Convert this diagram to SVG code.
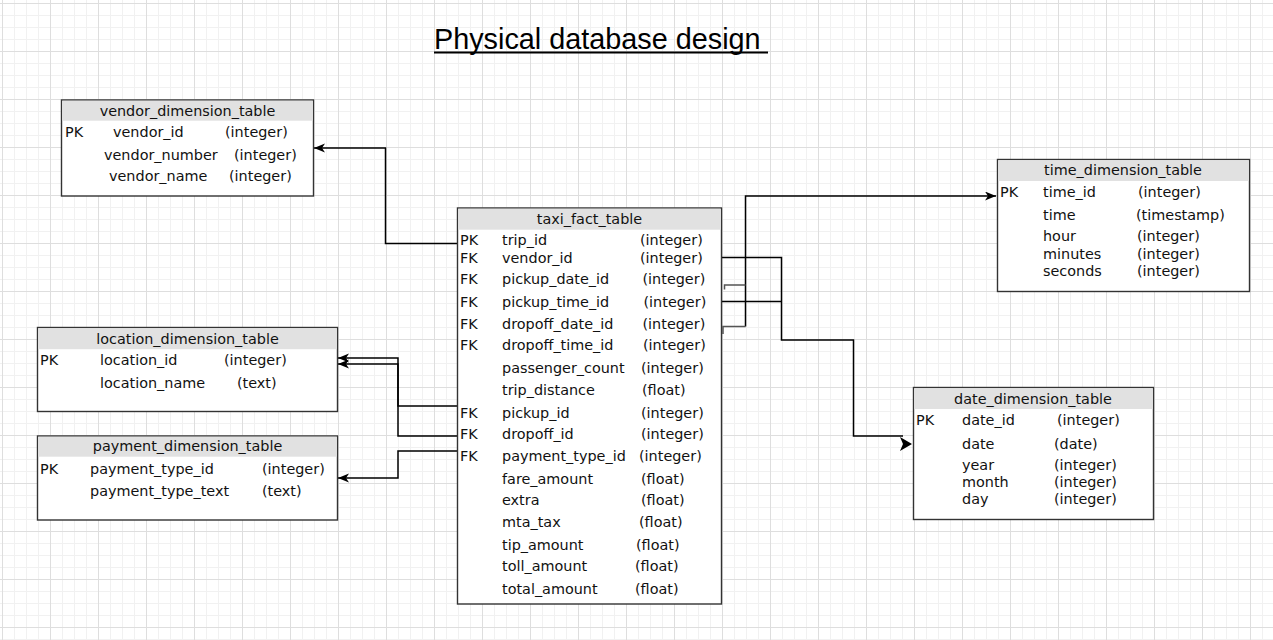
<svg xmlns="http://www.w3.org/2000/svg" width="1273" height="640" viewBox="0 0 1273 640">
<defs>
<pattern id="gMinor" width="12" height="12" patternUnits="userSpaceOnUse" x="2" y="3">
<path d="M0 0.5H12M0.5 0V12" fill="none" stroke="#f1f1f1" stroke-width="1"/>
</pattern>
<pattern id="gMajor" width="48" height="48" patternUnits="userSpaceOnUse" x="2" y="3">
<path d="M0 0.5H48M0.5 0V48" fill="none" stroke="#dedede" stroke-width="1"/>
</pattern>
<marker id="arr" markerUnits="userSpaceOnUse" markerWidth="12" markerHeight="10" refX="11" refY="4.5" orient="auto" viewBox="0 0 12 10">
<path d="M11 4.5L0 0L3 4.5L0 9Z" fill="#000"/>
</marker>
<style>
text{font-family:"DejaVu Sans",Verdana,sans-serif;font-size:14.4px;fill:#111}
.hd{text-anchor:middle}
.tb{fill:#fff;stroke:#333;stroke-width:1.4}
.hf{fill:#e1e1e1}
.cn{fill:none;stroke:#000;stroke-width:1.5}
.st{fill:none;stroke:#555;stroke-width:1.5}
.title{font-family:"Liberation Sans",Arial,sans-serif;font-size:28.8px;fill:#000}
</style>
</defs>
<rect width="1273" height="640" fill="#fff"/>
<rect width="1273" height="640" fill="url(#gMinor)"/>
<rect width="1273" height="640" fill="url(#gMajor)"/>

<g id="title">
<text class="title" x="434" y="49">Physical database design</text>
<line x1="434" y1="52.5" x2="768" y2="52.5" stroke="#000" stroke-width="2"/>
</g>

<g id="connectors">
<polyline class="cn" points="457,243.5 385.5,243.5 385.5,148 314,148" marker-end="url(#arr)"/>
<polyline class="cn" points="457,406 398,406 398,358 338,358" marker-end="url(#arr)"/>
<polyline class="cn" points="457,436 398,436 398,364 338,364" marker-end="url(#arr)"/>
<polyline class="cn" points="457,451 398,451 398,478 338,478" marker-end="url(#arr)"/>
<polyline class="cn" points="745.5,326.5 745.5,196 996,196" marker-end="url(#arr)"/>
<polyline class="st" points="724.5,289.5 724.5,285 745.5,285"/>
<polyline class="st" points="723,334 723,326.5 745.5,326.5"/>
<polyline class="cn" points="721,257.5 781.5,257.5 781.5,340 853.5,340 853.5,436 903,436"/>
<polyline class="cn" points="721,301.5 781.5,301.5"/>
<polygon points="912,444 900,437 903,444 900,451" fill="#000"/>
</g>

<g id="vendor_dimension_table">
<rect class="tb" x="61.5" y="100" width="252" height="96"/>
<rect class="hf" x="62.2" y="100.7" width="250.6" height="20"/>
<text class="hd" x="187.5" y="116">vendor_dimension_table</text>
<text x="65" y="137">PK</text><text x="113" y="137">vendor_id</text><text x="225" y="137">(integer)</text>
<text x="104" y="160">vendor_number</text><text x="234" y="160">(integer)</text>
<text x="109" y="181">vendor_name</text><text x="229" y="181">(integer)</text>
</g>

<g id="location_dimension_table">
<rect class="tb" x="37.5" y="327.5" width="300" height="84"/>
<rect class="hf" x="38.2" y="328.2" width="298.6" height="21"/>
<text class="hd" x="187.5" y="343.5">location_dimension_table</text>
<text x="40" y="365">PK</text><text x="100" y="365">location_id</text><text x="224" y="365">(integer)</text>
<text x="100" y="388">location_name</text><text x="237" y="388">(text)</text>
</g>

<g id="payment_dimension_table">
<rect class="tb" x="37.5" y="436" width="300" height="84"/>
<rect class="hf" x="38.2" y="436.7" width="298.6" height="20"/>
<text class="hd" x="187.5" y="451">payment_dimension_table</text>
<text x="40" y="473.5">PK</text><text x="90" y="473.5">payment_type_id</text><text x="262" y="473.5">(integer)</text>
<text x="90" y="496">payment_type_text</text><text x="262" y="496">(text)</text>
</g>

<g id="taxi_fact_table">
<rect class="tb" x="457.5" y="208" width="264" height="396"/>
<rect class="hf" x="458.2" y="208.7" width="262.6" height="21"/>
<text class="hd" x="589.5" y="223.5">taxi_fact_table</text>
<text x="460" y="245">PK</text><text x="502" y="245">trip_id</text><text x="640" y="245">(integer)</text>
<text x="460" y="263">FK</text><text x="502" y="263">vendor_id</text><text x="640" y="263">(integer)</text>
<text x="460" y="284">FK</text><text x="502" y="284">pickup_date_id</text><text x="642.5" y="284">(integer)</text>
<text x="460" y="307">FK</text><text x="502" y="307">pickup_time_id</text><text x="643.5" y="307">(integer)</text>
<text x="460" y="329">FK</text><text x="502" y="329">dropoff_date_id</text><text x="642.5" y="329">(integer)</text>
<text x="460" y="350">FK</text><text x="502" y="350">dropoff_time_id</text><text x="643" y="350">(integer)</text>
<text x="502" y="373">passenger_count</text><text x="641" y="373">(integer)</text>
<text x="502" y="395">trip_distance</text><text x="642" y="395">(float)</text>
<text x="460" y="418">FK</text><text x="502" y="418">pickup_id</text><text x="641" y="418">(integer)</text>
<text x="460" y="439">FK</text><text x="502" y="439">dropoff_id</text><text x="641" y="439">(integer)</text>
<text x="460" y="461">FK</text><text x="502" y="461">payment_type_id</text><text x="639" y="461">(integer)</text>
<text x="502" y="484">fare_amount</text><text x="641" y="484">(float)</text>
<text x="502" y="505">extra</text><text x="641" y="505">(float)</text>
<text x="502" y="527">mta_tax</text><text x="639" y="527">(float)</text>
<text x="502" y="550">tip_amount</text><text x="636" y="550">(float)</text>
<text x="502" y="571">toll_amount</text><text x="635" y="571">(float)</text>
<text x="502" y="594">total_amount</text><text x="635" y="594">(float)</text>
</g>

<g id="time_dimension_table">
<rect class="tb" x="997.5" y="159.5" width="252" height="132"/>
<rect class="hf" x="998.2" y="160.2" width="250.6" height="20.8"/>
<text class="hd" x="1123" y="175">time_dimension_table</text>
<text x="1000" y="197">PK</text><text x="1043" y="197">time_id</text><text x="1138" y="197">(integer)</text>
<text x="1043" y="219.5">time</text><text x="1136" y="219.5">(timestamp)</text>
<text x="1043" y="241">hour</text><text x="1137" y="241">(integer)</text>
<text x="1043" y="259">minutes</text><text x="1137" y="259">(integer)</text>
<text x="1043" y="275.5">seconds</text><text x="1137" y="275.5">(integer)</text>
</g>

<g id="date_dimension_table">
<rect class="tb" x="913.5" y="387.5" width="240" height="132"/>
<rect class="hf" x="914.2" y="388.2" width="238.6" height="20.8"/>
<text class="hd" x="1033" y="403.5">date_dimension_table</text>
<text x="916" y="425">PK</text><text x="962" y="425">date_id</text><text x="1057" y="425">(integer)</text>
<text x="962" y="448.5">date</text><text x="1054" y="448.5">(date)</text>
<text x="962" y="469.5">year</text><text x="1054" y="469.5">(integer)</text>
<text x="962" y="487">month</text><text x="1054" y="487">(integer)</text>
<text x="962" y="503.5">day</text><text x="1054" y="503.5">(integer)</text>
</g>
</svg>
